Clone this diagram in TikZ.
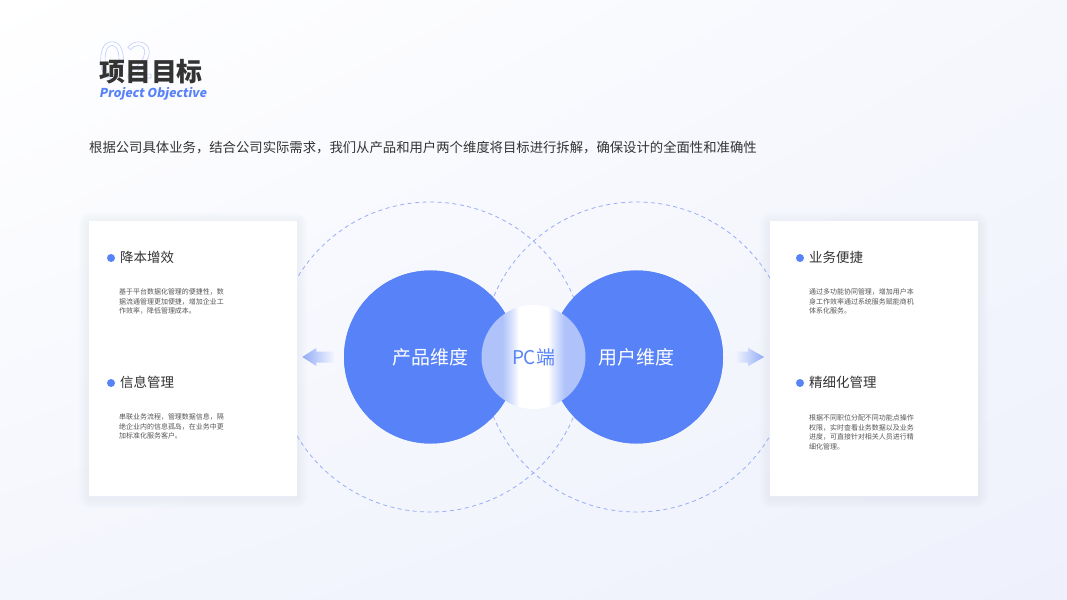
\documentclass[tikz,border=0pt]{standalone}
\usepackage{fontspec}
\setmainfont{Noto Sans CJK SC}
\newfontfamily\slantfont[FakeSlant=0.18]{Noto Sans CJK SC}
\usetikzlibrary{positioning,calc,shadings}

\definecolor{mainblue}{HTML}{5883F8}
\definecolor{ringblue}{HTML}{97AEF6}
\definecolor{pclight}{HTML}{AFC3FA}
\definecolor{arrowblue}{HTML}{93ABF6}
\definecolor{bgend}{HTML}{EEF1FC}
\definecolor{shadowblue}{HTML}{C9D3F5}
\definecolor{textdark}{HTML}{333333}
\definecolor{textgray}{HTML}{555555}
\definecolor{numblue}{HTML}{BFCEFA}

\pgfdeclarehorizontalshading{pcshade}{100bp}{color(0bp)=(pclight); color(35bp)=(pclight); color(39bp)=(pclight!55); color(43bp)=(white); color(57bp)=(white); color(61bp)=(pclight!55); color(65bp)=(pclight); color(100bp)=(pclight)}

\begin{document}
\begin{tikzpicture}[x=1bp, y=-1bp]
  \tikzset{
    card_box/.style={rectangle, fill=white, inner sep=0pt, minimum width=208bp, minimum height=275bp},
    dim_circle/.style={circle, fill=mainblue, inner sep=0pt, minimum size=173bp, text=white, font=\fontsize{19}{19}\selectfont},
    ring_circle/.style={circle, draw=ringblue, line width=0.8bp, dash pattern=on 4bp off 3.5bp, inner sep=0pt, minimum size=310bp},
    bullet_dot/.style={circle, fill=mainblue, inner sep=0pt, minimum size=8bp},
    item_title/.style={anchor=west, inner sep=0pt, text=textdark, font=\fontsize{13.5}{13.5}\selectfont},
    item_text/.style={anchor=north west, inner sep=0pt, align=left, text=textgray, font=\fontsize{7}{9.5}\selectfont}
  }
  \useasboundingbox (0,0) rectangle (1067,600);

  % Fondo
  \shade[upper left=white, upper right=bgend!55, lower left=bgend!65, lower right=bgend] (0,0) rectangle (1067,600);

  % Encabezado
  \node[anchor=base west, inner sep=0pt, text=numblue, font=\fontsize{50}{50}\selectfont] (num) at (98,78) {\special{pdf:code 1 Tr 0.6 w}02\special{pdf:code 0 Tr}};
  \node[anchor=west, inner sep=0pt, text=textdark, font=\fontsize{26}{26}\selectfont\bfseries] (title) at (99,72) {项目目标};
  \node[anchor=west, inner sep=0pt, text=mainblue, font=\fontsize{12.3}{12.3}\slantfont\bfseries] (subtitle) at (99,94) {Project Objective};
  \node[anchor=west, inner sep=0pt, text=textdark, font=\fontsize{13.4}{13.4}\selectfont] (intro) at (89,148) {根据公司具体业务，结合公司实际需求，我们从产品和用户两个维度将目标进行拆解，确保设计的全面性和准确性};

  % Circulos
  \node[dim_circle] (prod) at (430.5,357) {};
  \node[dim_circle] (user) at (636.5,357) {};
  \node[ring_circle] (ringL) at (prod) {};
  \node[ring_circle] (ringR) at (user) {};

  % Tarjetas con sombra
  \node[card_box, opacity=0] (cardL) at (193,358.5) {};
  \node[card_box, opacity=0] (cardR) at (874,358.5) {};
  \foreach \c in {cardL,cardR}{
    \foreach \s in {1,...,10}
      \fill[shadowblue, opacity=0.025, rounded corners=\s bp] ($(\c.south west)+(-\s,\s+2)$) rectangle ($(\c.north east)+(\s,-\s+2)$);
    \fill[white] (\c.south west) rectangle (\c.north east);
  }

  % Circulos de dimension
  \node[dim_circle] at (prod) {产品维度};
  \node[dim_circle] at (user) {用户维度};
  \node[circle, shading=pcshade, inner sep=0pt, minimum size=104bp, text=mainblue, font=\fontsize{19}{19}\selectfont] (pc) at (533.5,357) {PC端};

  % Flechas
  \coordinate (arrL) at ([xshift=-10bp]prod.west);
  \coordinate (arrR) at ([xshift=12bp]user.east);
  \shade[left color=arrowblue, right color=arrowblue!12] ([yshift=5.5bp]arrL) -- ++(-17.5,0) -- ++(0,-3.5) -- ++(-14,9) -- ++(14,9) -- ++(0,-3.5) -- ++(17.5,0) -- cycle;
  \shade[left color=arrowblue!12, right color=arrowblue] ([yshift=5.5bp]arrR) -- ++(13,0) -- ++(0,-3.5) -- ++(16,9) -- ++(-16,9) -- ++(0,-3.5) -- ++(-13,0) -- cycle;

  % Tarjeta izquierda
  \node[bullet_dot] (dotA) at (111,258) {};
  \node[item_title] (titA) at (120,257) {降本增效};
  \node[item_text] (txtA) at (119,288.5) {基于平台数据化管理的便捷性，数\\据流通管理更加便捷，增加企业工\\作效率，降低管理成本。};
  \node[bullet_dot] (dotB) at (111,383) {};
  \node[item_title] (titB) at (120,382) {信息管理};
  \node[item_text] (txtB) at (119,413.5) {串联业务流程，管理数据信息，隔\\绝企业内的信息孤岛，在业务中更\\加标准化服务客户。};

  % Tarjeta derecha
  \node[bullet_dot] (dotC) at (800,258) {};
  \node[item_title] (titC) at (809,257) {业务便捷};
  \node[item_text] (txtC) at (809,288.5) {通过多功能协同管理，增加用户本\\身工作效率通过系统服务赋能商机\\体系化服务。};
  \node[bullet_dot] (dotD) at (800,383) {};
  \node[item_title] (titD) at (809,382) {精细化管理};
  \node[item_text] (txtD) at (809,414.5) {根据不同职位分配不同功能点操作\\权限，实时查看业务数据以及业务\\进度，可直接针对相关人员进行精\\细化管理。};
\end{tikzpicture}
\end{document}
